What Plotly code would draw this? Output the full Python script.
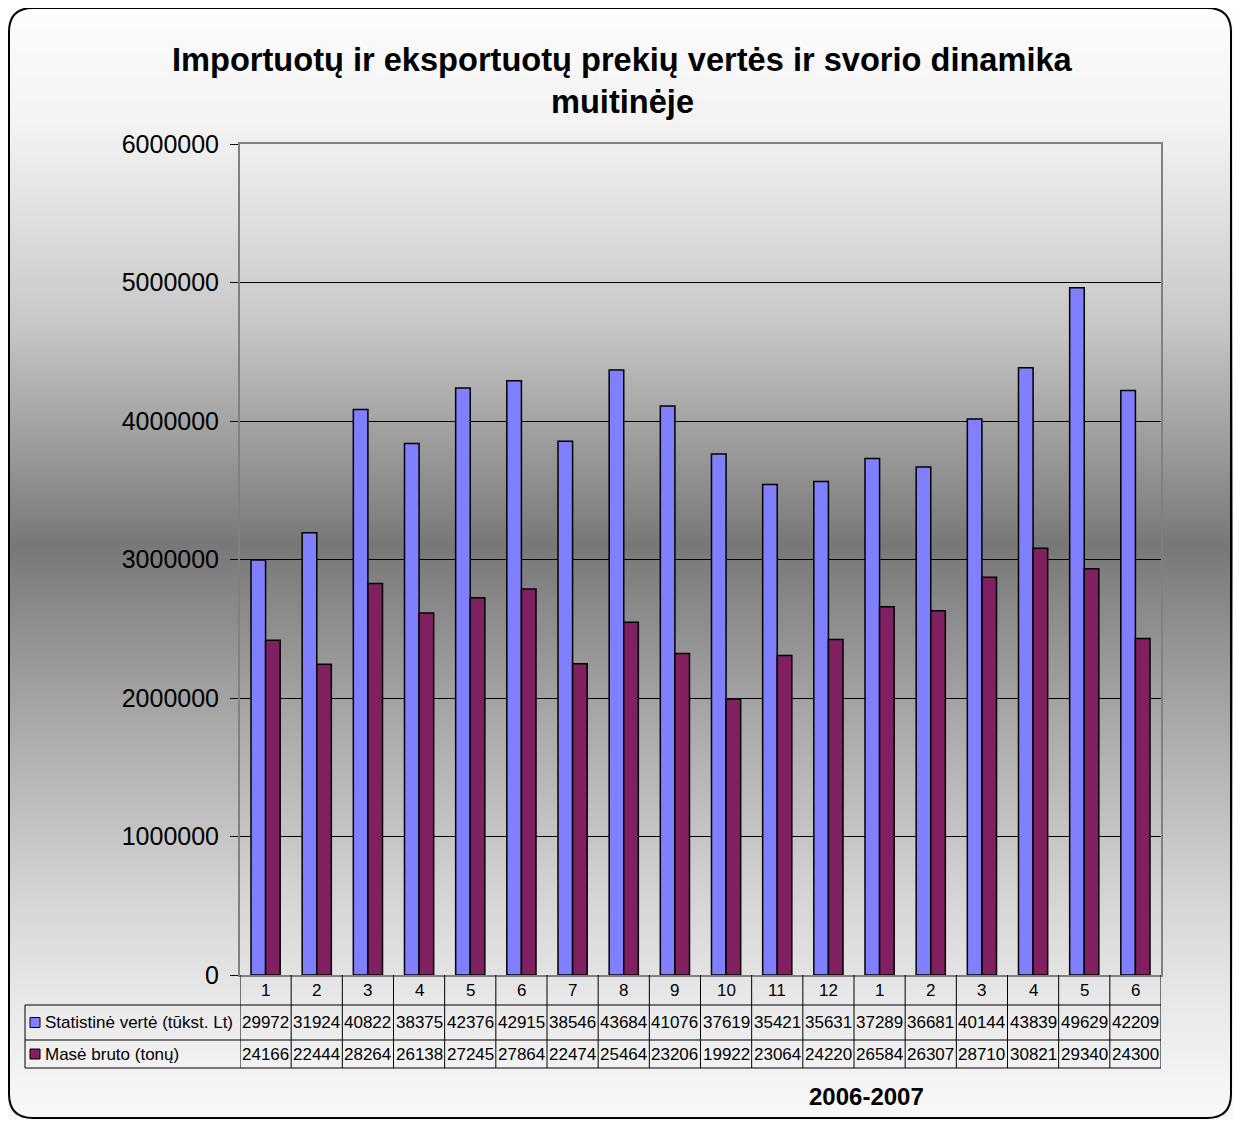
import plotly.graph_objects as go

# monthly values, 2006-07 .. 2007-06
months = ["1", "2", "3", "4", "5", "6", "7", "8", "9", "10", "11", "12",
          "1", "2", "3", "4", "5", "6"]
stat_value = [2997200, 3192400, 4082200, 3837500, 4237600, 4291500, 3854600, 4368400, 4107600,
              3761900, 3542100, 3563100, 3728900, 3668100, 4014400, 4383900, 4962900, 4220900]
mass_gross = [2416600, 2244400, 2826400, 2613800, 2724500, 2786400, 2247400, 2546400, 2320600,
              1992200, 2306400, 2422000, 2658400, 2630700, 2871000, 3082100, 2934000, 2430000]
series_names = ["Statistinė vertė (tūkst. Lt)", "Masė bruto (tonų)"]
series_colors = ["#8080FF", "#802060"]

# page is 1241x1128, the figure div sits 8px in (body margin) -> keep it inside the page
OFF = 8
PAGE_W, PAGE_H = 1241, 1128
W, H = PAGE_W - 2 * OFF, PAGE_H - 2 * OFF
L, R, T, B = 240, 1161, 144, 975  # plot area, page pixels
FONT = "Liberation Sans, Arial, sans-serif"


def px(x):
    return (x - L) / (R - L)


def py(y):
    return (B - y) / (B - T)


fig = go.Figure()
x = list(range(len(months)))
for name, vals, col in zip(series_names, [stat_value, mass_gross], series_colors):
    fig.add_trace(go.Bar(x=x, y=vals, name=name, marker_color=col,
                         marker_line=dict(color="#000000", width=1.5)))

shapes = []
annotations = []

# background gradient (white - grey - white)
stops = [(0, 253), (130, 242), (320, 200), (545, 120), (720, 168), (900, 213), (1000, 232), (1128, 250)]


def grey_at(y):
    for (y0, g0), (y1, g1) in zip(stops[:-1], stops[1:]):
        if y0 <= y <= y1:
            return g0 + (g1 - g0) * (y - y0) / (y1 - y0)
    return stops[-1][1]


step = 4
for y in range(0, PAGE_H, step):
    g = int(round(grey_at(y + step / 2)))
    shapes.append(dict(type="rect", xref="paper", yref="paper", layer="below",
                       x0=px(0), x1=px(PAGE_W), y0=py(y), y1=py(y + step + 1),
                       fillcolor=f"rgb({g},{g},{g})", line=dict(width=0)))

# rounded frame
fx0, fy0, fx1, fy1, r = 9, 8, 1231, 1118, 24
path = (f"M {px(fx0 + r)},{py(fy0)} L {px(fx1 - r)},{py(fy0)} Q {px(fx1)},{py(fy0)} {px(fx1)},{py(fy0 + r)} "
        f"L {px(fx1)},{py(fy1 - r)} Q {px(fx1)},{py(fy1)} {px(fx1 - r)},{py(fy1)} "
        f"L {px(fx0 + r)},{py(fy1)} Q {px(fx0)},{py(fy1)} {px(fx0)},{py(fy1 - r)} "
        f"L {px(fx0)},{py(fy0 + r)} Q {px(fx0)},{py(fy0)} {px(fx0 + r)},{py(fy0)} Z")
shapes.append(dict(type="path", xref="paper", yref="paper", path=path, layer="above",
                   line=dict(color="#000000", width=2)))

# data table
row_y = [975, 1005, 1040, 1068]
tbl_left = 25
line_style = dict(color="#000000", width=1)
for yy in row_y[1:]:
    shapes.append(dict(type="line", xref="paper", yref="paper", x0=px(tbl_left), x1=px(R),
                       y0=py(yy), y1=py(yy), line=line_style))
for i in range(len(months) + 1):
    shapes.append(dict(type="line", xref="x", yref="paper", x0=i - 0.5, x1=i - 0.5,
                       y0=py(row_y[0]), y1=py(row_y[3]), line=line_style))
shapes.append(dict(type="line", xref="paper", yref="paper", x0=px(tbl_left), x1=px(tbl_left),
                   y0=py(row_y[1]), y1=py(row_y[3]), line=line_style))

cell_font = dict(family=FONT, size=17, color="#000000")
for i, m in enumerate(months):
    annotations.append(dict(x=i, y=py((row_y[0] + row_y[1]) / 2), xref="x", yref="paper",
                            xanchor="center", yanchor="middle",
                            text=m, showarrow=False, font=cell_font))
for k, vals in enumerate([stat_value, mass_gross]):
    ym = (row_y[k + 1] + row_y[k + 2]) / 2
    for i, v in enumerate(vals):
        annotations.append(dict(x=i, y=py(ym), xref="x", yref="paper", text=str(v)[:5],
                                xanchor="center", yanchor="middle",
                                showarrow=False, font=cell_font))
    annotations.append(dict(x=px(43), y=py(ym), xref="paper", yref="paper", text=series_names[k],
                            xanchor="left", yanchor="middle", showarrow=False, font=cell_font))
    shapes.append(dict(type="rect", xref="paper", yref="paper", x0=px(30), x1=px(40),
                       y0=py(ym - 5), y1=py(ym + 5), fillcolor=series_colors[k],
                       line=dict(color="#000000", width=1)))

annotations.append(dict(x=px(866), y=py(1096), xref="paper", yref="paper", text="<b>2006-2007</b>",
                        xanchor="center", yanchor="middle",
                        showarrow=False, font=dict(family=FONT, size=24, color="#000000")))

# title
title_font = dict(family=FONT, size=32.6, color="#000000")
annotations.append(dict(x=px(622), y=py(60), xref="paper", yref="paper",
                        text="<b>Importuotų ir eksportuotų prekių vertės ir svorio dinamika</b>",
                        xanchor="center", yanchor="middle", showarrow=False, font=title_font))
annotations.append(dict(x=px(622), y=py(101), xref="paper", yref="paper", text="<b>muitinėje</b>",
                        xanchor="center", yanchor="middle", showarrow=False, font=title_font))

fig.update_layout(
    width=W, height=H,
    margin=dict(l=L - OFF, r=PAGE_W - OFF - R, t=T - OFF, b=PAGE_H - OFF - B, pad=0),
    paper_bgcolor="white",
    plot_bgcolor="#C0C0C0",
    barmode="group",
    bargap=0.43,
    bargroupgap=0,
    showlegend=False,
    shapes=shapes,
    annotations=annotations,
    font=dict(family=FONT, color="#000000"),
    xaxis=dict(range=[-0.5, len(months) - 0.5], showticklabels=False, ticks="",
               showgrid=False, zeroline=False, showline=True, linecolor="#808080",
               linewidth=2, mirror=True),
    yaxis=dict(range=[0, 6000000], dtick=1000000, tickformat="d", showgrid=True,
               gridcolor="#000000", gridwidth=1, zeroline=False, showline=True,
               linecolor="#808080", linewidth=2, mirror=True, ticks="outside",
               ticklen=8, tickcolor="#000000", tickwidth=1, ticklabelstandoff=6,
               tickfont=dict(family=FONT, size=25, color="#000000")),
)

fig.write_html("out.html")
